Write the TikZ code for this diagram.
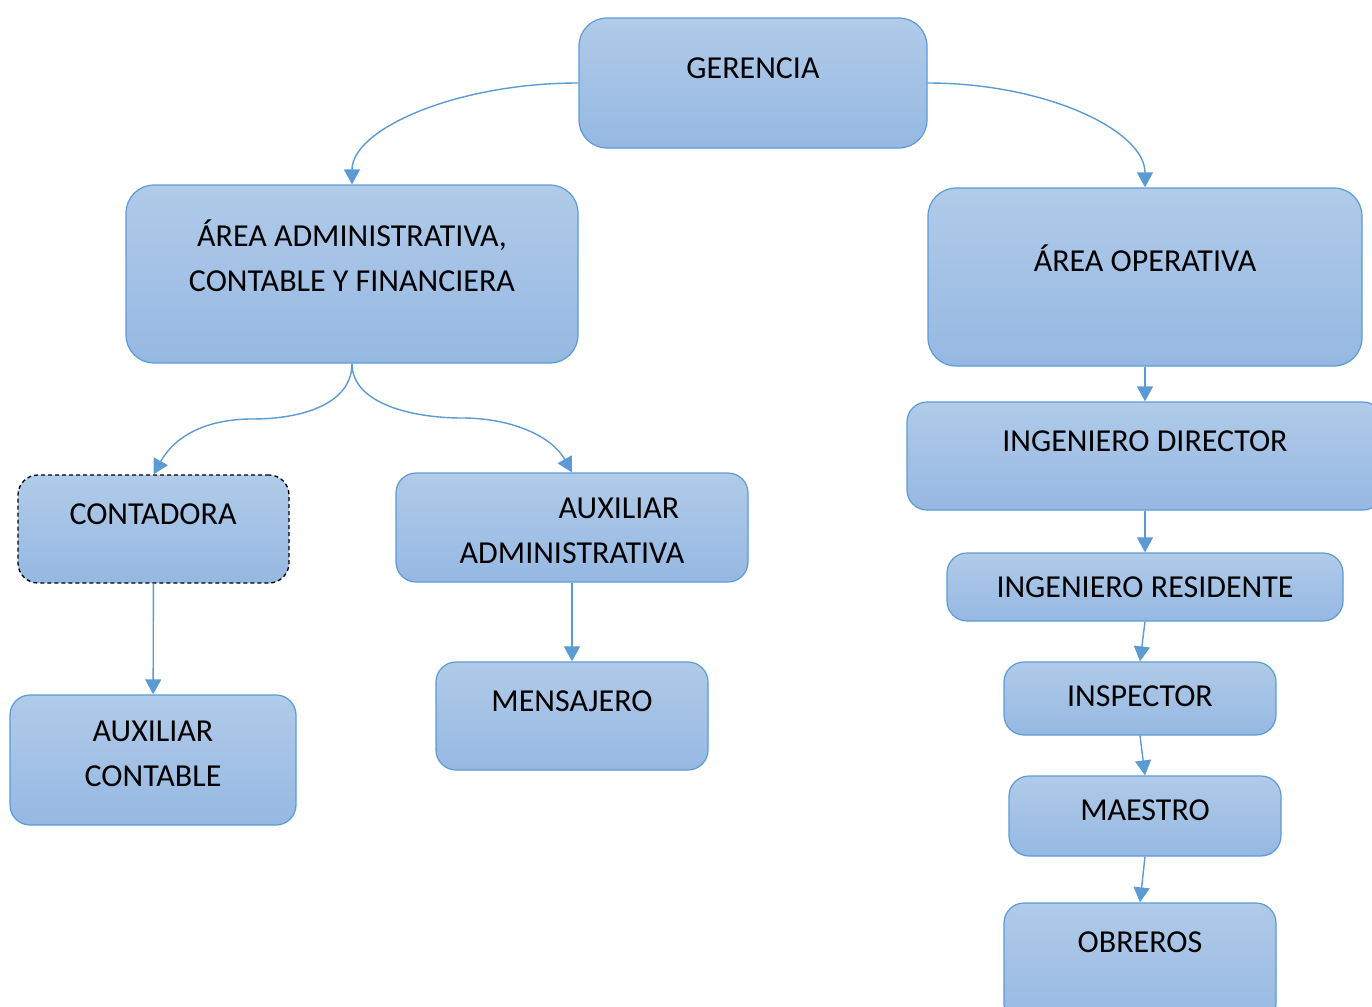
\documentclass[tikz,border=0pt]{standalone}
\usepackage{fontspec}
\setmainfont{Carlito}
\usetikzlibrary{arrows.meta, fit, calc}
\definecolor{boxline}{HTML}{5B9BD5}
\definecolor{boxtop}{HTML}{B1CBE9}
\definecolor{boxbottom}{HTML}{95B8E2}

\begin{document}
\begin{tikzpicture}[
        x=0.5pt, y=-0.5pt,
        box/.style={draw=boxline, line width=0.6pt, rounded corners=10pt, top color=boxtop, bottom color=boxbottom, inner sep=0pt},
        bigbox/.style={box, rounded corners=14pt},
        lbl/.style={font=\fontsize{16}{22.5}\selectfont, align=center, inner sep=0pt},
        arrow/.style={-{Triangle[length=7.5pt, width=8pt]}, draw=boxline, line width=0.7pt}
    ]
        \useasboundingbox (0,0) rectangle (1372,1007);
        \clip (0,0) rectangle (1372,1007);

        % Top: management
        \node[bigbox, fit={(579,18) (927,148)}] (ger) {};
        \node[lbl] (gerT) at (753,68) {GERENCIA};

        % Left side: administration
        \node[bigbox, fit={(126,185) (578,363)}] (adm) {};
        \node[lbl] (admT) at (352,256) {ÁREA ADMINISTRATIVA,\\CONTABLE Y FINANCIERA};

        \node[box, fit={(18,475) (289,583)}, draw=black, dashed, dash pattern=on 2pt off 1.5pt, line width=0.65pt] (cont) {};
        \node[lbl] (contT) at (153,514) {CONTADORA};

        \node[box, fit={(396,473) (748,582)}] (auxadm) {};
        \node[lbl] (auxadmT) at (572,531) {\hspace*{47pt}AUXILIAR\\ADMINISTRATIVA};

        \node[box, fit={(436,662) (708,770)}] (mens) {};
        \node[lbl] (mensT) at (572,701) {MENSAJERO};

        \node[box, fit={(10,695) (296,825)}] (auxcont) {};
        \node[lbl] (auxcontT) at (153,754) {AUXILIAR\\CONTABLE};

        % Right side: operations
        \node[bigbox, fit={(928,188) (1362,366)}] (ope) {};
        \node[lbl] (opeT) at (1145,258) {ÁREA OPERATIVA};

        \node[box, fit={(907,402) (1383,510)}] (ingdir) {};
        \node[lbl] (ingdirT) at (1145,441) {INGENIERO DIRECTOR};

        \node[box, fit={(947,553) (1343,621)}] (ingres) {};
        \node[lbl] (ingresT) at (1145,587) {INGENIERO RESIDENTE};

        \node[box, fit={(1004,662) (1276,735)}] (insp) {};
        \node[lbl] (inspT) at (1140,696) {INSPECTOR};

        \node[box, fit={(1009,776) (1281,856)}] (maes) {};
        \node[lbl] (maesT) at (1145,810) {MAESTRO};

        \node[box, fit={(1004,903) (1276,1025)}] (obr) {};
        \node[lbl] (obrT) at (1140,942) {OBREROS};

        % Connectors
        \draw[arrow] (ger.west) .. controls +(-123,0) and +(0,-55) .. (adm.north);
        \draw[arrow] (ger.east) .. controls +(118,0) and +(0,-57) .. (ope.north);
        \draw[arrow] (adm.south) .. controls +(0,40) and +(50,0) .. ($(adm.south)!.5!(cont.north)$)
            .. controls +(-50,0) and +(20,-36) .. (cont.north);
        \draw[arrow] (adm.south) .. controls +(0,40) and +(-50,0) .. ($(adm.south)!.5!(auxadm.north)$)
            .. controls +(50,0) and +(-20,-36) .. (auxadm.north);
        \draw[arrow] (cont) -- (auxcont);
        \draw[arrow] (auxadm) -- (mens);
        \draw[arrow] (ope.south) -- (ingdir.north -| ope.south);
        \draw[arrow] (ingdir.south -| ope.south) -- (ingres.north);
        \draw[arrow] (ingres.south) -- (insp.north);
        \draw[arrow] (insp.south) -- (maes.north);
        \draw[arrow] (maes.south) -- (obr.north);
    \end{tikzpicture}
\end{document}
